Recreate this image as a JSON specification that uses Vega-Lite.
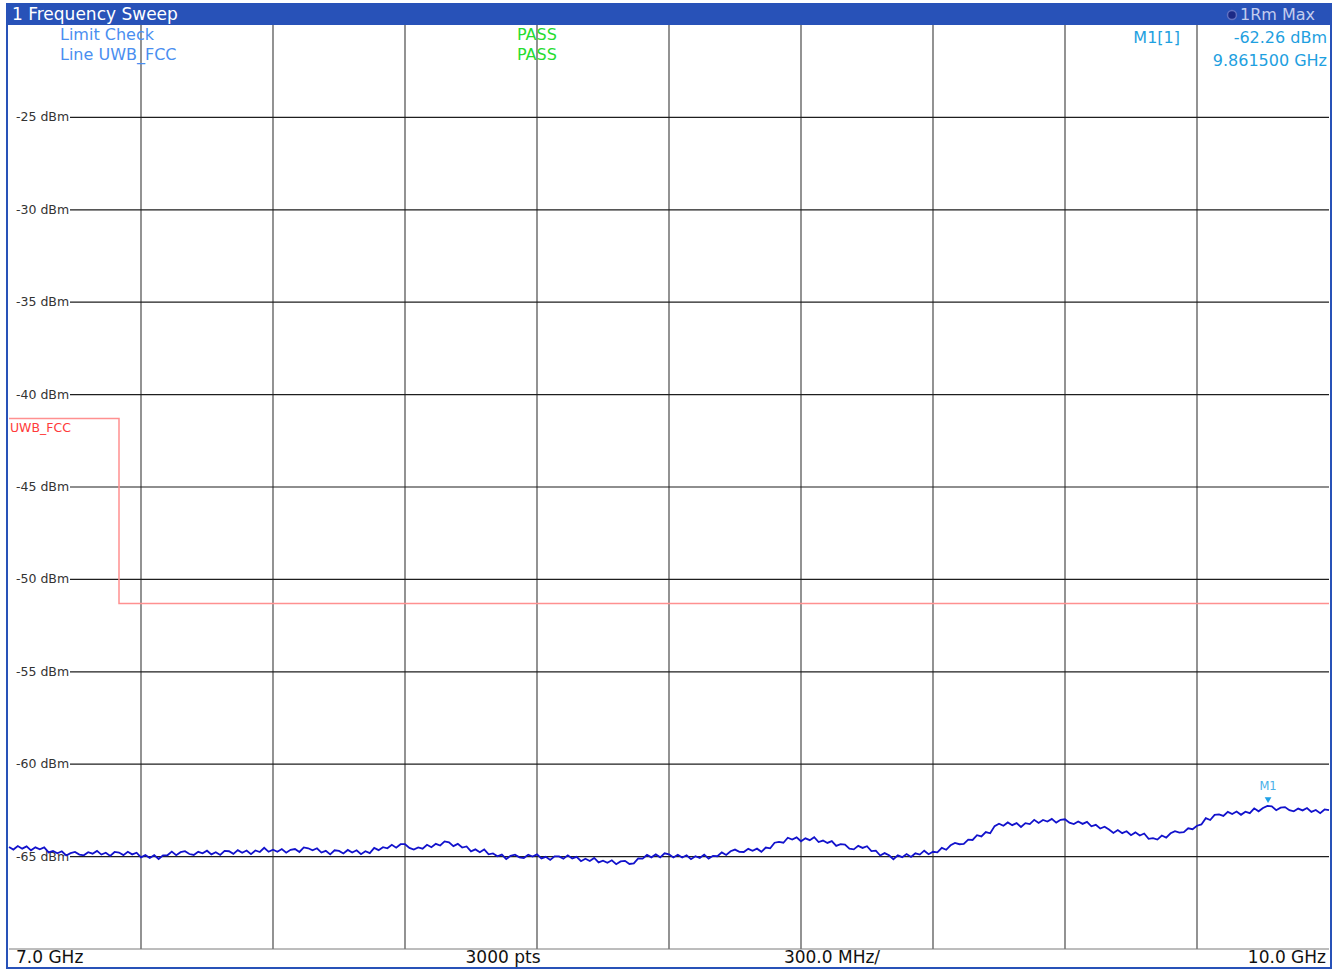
{
  "$schema": "https://vega.github.io/schema/vega-lite/v6.json",
  "width": 1320,
  "height": 924,
  "autosize": {"type": "none"},
  "padding": {"left": 9, "top": 25, "right": 6, "bottom": 21},
  "background": "white",
  "config": {"view": {"stroke": null}, "text": {"font": "DejaVu Sans"}},
  "datasets": {
    "trace": [
      {"f":7.00,"dBm":-64.48},{"f":7.01,"dBm":-64.62},{"f":7.02,"dBm":-64.43},{"f":7.03,"dBm":-64.57},{"f":7.04,"dBm":-64.45},{"f":7.05,"dBm":-64.66},{"f":7.06,"dBm":-64.50},{"f":7.07,"dBm":-64.60},{"f":7.08,"dBm":-64.50},{"f":7.09,"dBm":-64.77},
      {"f":7.10,"dBm":-64.69},{"f":7.11,"dBm":-64.82},{"f":7.12,"dBm":-64.71},{"f":7.13,"dBm":-64.94},{"f":7.14,"dBm":-64.81},{"f":7.15,"dBm":-64.75},{"f":7.16,"dBm":-64.89},{"f":7.17,"dBm":-64.93},{"f":7.18,"dBm":-64.76},{"f":7.19,"dBm":-64.84},
      {"f":7.20,"dBm":-64.69},{"f":7.21,"dBm":-64.89},{"f":7.22,"dBm":-64.79},{"f":7.23,"dBm":-64.96},{"f":7.24,"dBm":-64.75},{"f":7.25,"dBm":-64.78},{"f":7.26,"dBm":-64.92},{"f":7.27,"dBm":-64.74},{"f":7.28,"dBm":-64.88},{"f":7.29,"dBm":-64.79},
      {"f":7.30,"dBm":-65.04},{"f":7.31,"dBm":-64.92},{"f":7.32,"dBm":-65.07},{"f":7.33,"dBm":-64.92},{"f":7.34,"dBm":-65.13},{"f":7.35,"dBm":-64.93},{"f":7.36,"dBm":-64.93},{"f":7.37,"dBm":-64.73},{"f":7.38,"dBm":-64.92},{"f":7.39,"dBm":-64.76},
      {"f":7.40,"dBm":-64.71},{"f":7.41,"dBm":-64.86},{"f":7.42,"dBm":-64.91},{"f":7.43,"dBm":-64.74},{"f":7.44,"dBm":-64.82},{"f":7.45,"dBm":-64.68},{"f":7.46,"dBm":-64.88},{"f":7.47,"dBm":-64.76},{"f":7.48,"dBm":-64.91},{"f":7.49,"dBm":-64.69},
      {"f":7.50,"dBm":-64.71},{"f":7.51,"dBm":-64.85},{"f":7.52,"dBm":-64.65},{"f":7.53,"dBm":-64.79},{"f":7.54,"dBm":-64.67},{"f":7.55,"dBm":-64.87},{"f":7.56,"dBm":-64.67},{"f":7.57,"dBm":-64.75},{"f":7.58,"dBm":-64.52},{"f":7.59,"dBm":-64.74},
      {"f":7.60,"dBm":-64.63},{"f":7.61,"dBm":-64.74},{"f":7.62,"dBm":-64.59},{"f":7.63,"dBm":-64.79},{"f":7.64,"dBm":-64.63},{"f":7.65,"dBm":-64.59},{"f":7.66,"dBm":-64.75},{"f":7.67,"dBm":-64.50},{"f":7.68,"dBm":-64.55},{"f":7.69,"dBm":-64.66},
      {"f":7.70,"dBm":-64.55},{"f":7.71,"dBm":-64.78},{"f":7.72,"dBm":-64.69},{"f":7.73,"dBm":-64.88},{"f":7.74,"dBm":-64.66},{"f":7.75,"dBm":-64.69},{"f":7.76,"dBm":-64.83},{"f":7.77,"dBm":-64.64},{"f":7.78,"dBm":-64.78},{"f":7.79,"dBm":-64.66},
      {"f":7.80,"dBm":-64.87},{"f":7.81,"dBm":-64.71},{"f":7.82,"dBm":-64.81},{"f":7.83,"dBm":-64.53},{"f":7.84,"dBm":-64.65},{"f":7.85,"dBm":-64.49},{"f":7.86,"dBm":-64.55},{"f":7.87,"dBm":-64.36},{"f":7.88,"dBm":-64.52},{"f":7.89,"dBm":-64.33},
      {"f":7.90,"dBm":-64.33},{"f":7.91,"dBm":-64.53},{"f":7.92,"dBm":-64.62},{"f":7.93,"dBm":-64.50},{"f":7.94,"dBm":-64.57},{"f":7.95,"dBm":-64.36},{"f":7.96,"dBm":-64.49},{"f":7.97,"dBm":-64.31},{"f":7.98,"dBm":-64.40},{"f":7.99,"dBm":-64.18},
      {"f":8.00,"dBm":-64.23},{"f":8.01,"dBm":-64.43},{"f":8.02,"dBm":-64.31},{"f":8.03,"dBm":-64.51},{"f":8.04,"dBm":-64.45},{"f":8.05,"dBm":-64.72},{"f":8.06,"dBm":-64.61},{"f":8.07,"dBm":-64.76},{"f":8.08,"dBm":-64.61},{"f":8.09,"dBm":-64.88},
      {"f":8.10,"dBm":-64.83},{"f":8.11,"dBm":-64.98},{"f":8.12,"dBm":-64.89},{"f":8.13,"dBm":-65.13},{"f":8.14,"dBm":-64.96},{"f":8.15,"dBm":-64.90},{"f":8.16,"dBm":-65.04},{"f":8.17,"dBm":-65.08},{"f":8.18,"dBm":-64.90},{"f":8.19,"dBm":-65.00},
      {"f":8.20,"dBm":-64.88},{"f":8.21,"dBm":-65.10},{"f":8.22,"dBm":-65.01},{"f":8.23,"dBm":-65.18},{"f":8.24,"dBm":-64.99},{"f":8.25,"dBm":-64.99},{"f":8.26,"dBm":-65.11},{"f":8.27,"dBm":-64.93},{"f":8.28,"dBm":-65.10},{"f":8.29,"dBm":-65.01},
      {"f":8.30,"dBm":-65.25},{"f":8.31,"dBm":-65.12},{"f":8.32,"dBm":-65.24},{"f":8.33,"dBm":-65.07},{"f":8.34,"dBm":-65.31},{"f":8.35,"dBm":-65.22},{"f":8.36,"dBm":-65.33},{"f":8.37,"dBm":-65.20},{"f":8.38,"dBm":-65.41},{"f":8.39,"dBm":-65.26},
      {"f":8.40,"dBm":-65.23},{"f":8.41,"dBm":-65.40},{"f":8.42,"dBm":-65.37},{"f":8.43,"dBm":-65.10},{"f":8.44,"dBm":-65.11},{"f":8.45,"dBm":-64.91},{"f":8.46,"dBm":-65.04},{"f":8.47,"dBm":-64.88},{"f":8.48,"dBm":-65.04},{"f":8.49,"dBm":-64.82},
      {"f":8.50,"dBm":-64.88},{"f":8.51,"dBm":-65.05},{"f":8.52,"dBm":-64.90},{"f":8.53,"dBm":-65.05},{"f":8.54,"dBm":-64.93},{"f":8.55,"dBm":-65.14},{"f":8.56,"dBm":-64.98},{"f":8.57,"dBm":-65.08},{"f":8.58,"dBm":-64.89},{"f":8.59,"dBm":-65.11},
      {"f":8.60,"dBm":-64.96},{"f":8.61,"dBm":-64.98},{"f":8.62,"dBm":-64.77},{"f":8.63,"dBm":-64.91},{"f":8.64,"dBm":-64.71},{"f":8.65,"dBm":-64.62},{"f":8.66,"dBm":-64.74},{"f":8.67,"dBm":-64.75},{"f":8.68,"dBm":-64.58},{"f":8.69,"dBm":-64.69},
      {"f":8.70,"dBm":-64.57},{"f":8.71,"dBm":-64.74},{"f":8.72,"dBm":-64.51},{"f":8.73,"dBm":-64.55},{"f":8.74,"dBm":-64.25},{"f":8.75,"dBm":-64.20},{"f":8.76,"dBm":-64.25},{"f":8.77,"dBm":-63.98},{"f":8.78,"dBm":-64.08},{"f":8.79,"dBm":-63.96},
      {"f":8.80,"dBm":-64.17},{"f":8.81,"dBm":-64.01},{"f":8.82,"dBm":-64.11},{"f":8.83,"dBm":-63.95},{"f":8.84,"dBm":-64.21},{"f":8.85,"dBm":-64.13},{"f":8.86,"dBm":-64.26},{"f":8.87,"dBm":-64.16},{"f":8.88,"dBm":-64.42},{"f":8.89,"dBm":-64.33},
      {"f":8.90,"dBm":-64.35},{"f":8.91,"dBm":-64.57},{"f":8.92,"dBm":-64.61},{"f":8.93,"dBm":-64.42},{"f":8.94,"dBm":-64.53},{"f":8.95,"dBm":-64.44},{"f":8.96,"dBm":-64.70},{"f":8.97,"dBm":-64.68},{"f":8.98,"dBm":-64.94},{"f":8.99,"dBm":-64.81},
      {"f":9.00,"dBm":-64.93},{"f":9.01,"dBm":-65.14},{"f":9.02,"dBm":-64.93},{"f":9.03,"dBm":-65.03},{"f":9.04,"dBm":-64.86},{"f":9.05,"dBm":-65.02},{"f":9.06,"dBm":-64.82},{"f":9.07,"dBm":-64.89},{"f":9.08,"dBm":-64.68},{"f":9.09,"dBm":-64.87},
      {"f":9.10,"dBm":-64.74},{"f":9.11,"dBm":-64.77},{"f":9.12,"dBm":-64.53},{"f":9.13,"dBm":-64.63},{"f":9.14,"dBm":-64.39},{"f":9.15,"dBm":-64.26},{"f":9.16,"dBm":-64.33},{"f":9.17,"dBm":-64.31},{"f":9.18,"dBm":-64.08},{"f":9.19,"dBm":-64.10},
      {"f":9.20,"dBm":-63.84},{"f":9.21,"dBm":-63.91},{"f":9.22,"dBm":-63.67},{"f":9.23,"dBm":-63.74},{"f":9.24,"dBm":-63.35},{"f":9.25,"dBm":-63.22},{"f":9.26,"dBm":-63.33},{"f":9.27,"dBm":-63.15},{"f":9.28,"dBm":-63.30},{"f":9.29,"dBm":-63.19},
      {"f":9.30,"dBm":-63.40},{"f":9.31,"dBm":-63.19},{"f":9.32,"dBm":-63.24},{"f":9.33,"dBm":-63.01},{"f":9.34,"dBm":-63.18},{"f":9.35,"dBm":-63.02},{"f":9.36,"dBm":-63.10},{"f":9.37,"dBm":-62.96},{"f":9.38,"dBm":-63.16},{"f":9.39,"dBm":-63.01},
      {"f":9.40,"dBm":-62.98},{"f":9.41,"dBm":-63.16},{"f":9.42,"dBm":-63.24},{"f":9.43,"dBm":-63.10},{"f":9.44,"dBm":-63.23},{"f":9.45,"dBm":-63.12},{"f":9.46,"dBm":-63.36},{"f":9.47,"dBm":-63.28},{"f":9.48,"dBm":-63.48},{"f":9.49,"dBm":-63.38},
      {"f":9.50,"dBm":-63.53},{"f":9.51,"dBm":-63.72},{"f":9.52,"dBm":-63.56},{"f":9.53,"dBm":-63.73},{"f":9.54,"dBm":-63.63},{"f":9.55,"dBm":-63.84},{"f":9.56,"dBm":-63.69},{"f":9.57,"dBm":-63.86},{"f":9.58,"dBm":-63.75},{"f":9.59,"dBm":-64.04},
      {"f":9.60,"dBm":-64.00},{"f":9.61,"dBm":-64.08},{"f":9.62,"dBm":-63.86},{"f":9.63,"dBm":-63.97},{"f":9.64,"dBm":-63.74},{"f":9.65,"dBm":-63.62},{"f":9.66,"dBm":-63.70},{"f":9.67,"dBm":-63.68},{"f":9.68,"dBm":-63.47},{"f":9.69,"dBm":-63.52},
      {"f":9.70,"dBm":-63.33},{"f":9.71,"dBm":-63.26},{"f":9.72,"dBm":-62.92},{"f":9.73,"dBm":-63.02},{"f":9.74,"dBm":-62.74},{"f":9.75,"dBm":-62.72},{"f":9.76,"dBm":-62.80},{"f":9.77,"dBm":-62.58},{"f":9.78,"dBm":-62.70},{"f":9.79,"dBm":-62.56},
      {"f":9.80,"dBm":-62.74},{"f":9.81,"dBm":-62.57},{"f":9.82,"dBm":-62.65},{"f":9.83,"dBm":-62.39},{"f":9.84,"dBm":-62.55},{"f":9.85,"dBm":-62.37},{"f":9.86,"dBm":-62.26},{"f":9.87,"dBm":-62.28},{"f":9.88,"dBm":-62.49},{"f":9.89,"dBm":-62.35},
      {"f":9.90,"dBm":-62.32},{"f":9.91,"dBm":-62.49},{"f":9.92,"dBm":-62.55},{"f":9.93,"dBm":-62.40},{"f":9.94,"dBm":-62.50},{"f":9.95,"dBm":-62.37},{"f":9.96,"dBm":-62.58},{"f":9.97,"dBm":-62.48},{"f":9.98,"dBm":-62.65},{"f":9.99,"dBm":-62.45},
      {"f":10.00,"dBm":-62.49}
    ],
    "limit": [
      {"k":1,"f":7.0,"dBm":-41.3},{"k":2,"f":7.25,"dBm":-41.3},{"k":3,"f":7.25,"dBm":-51.3},{"k":4,"f":10.0,"dBm":-51.3}
    ],
    "vgrid": [{"f":7.3},{"f":7.6},{"f":7.9},{"f":8.2},{"f":8.5},{"f":8.8},{"f":9.1},{"f":9.4},{"f":9.7}],
    "hgrid": [
      {"level":-25,"label":"-25 dBm"},{"level":-30,"label":"-30 dBm"},{"level":-35,"label":"-35 dBm"},{"level":-40,"label":"-40 dBm"},
      {"level":-45,"label":"-45 dBm"},{"level":-50,"label":"-50 dBm"},{"level":-55,"label":"-55 dBm"},{"level":-60,"label":"-60 dBm"},{"level":-65,"label":"-65 dBm"}
    ],
    "one": [{}]
  },
  "layer": [
    {
      "data": {"name": "vgrid"},
      "mark": {"type": "rule", "color": "#4a4a4a", "strokeWidth": 1.2},
      "encoding": {
        "x": {"field": "f", "type": "quantitative", "scale": {"domain": [7, 10], "nice": false, "zero": false}, "axis": null},
        "y": {"datum": -70, "type": "quantitative", "scale": {"domain": [-70, -20], "nice": false, "zero": false}, "axis": null},
        "y2": {"datum": -20}
      }
    },
    {
      "data": {"name": "hgrid"},
      "mark": {"type": "rule", "color": "#1e1e1e", "strokeWidth": 1.2},
      "encoding": {
        "y": {"field": "level", "type": "quantitative", "scale": {"domain": [-70, -20], "nice": false, "zero": false}, "axis": null},
        "x": {"datum": 7.1386, "type": "quantitative", "scale": {"domain": [7, 10], "nice": false, "zero": false}, "axis": null},
        "x2": {"datum": 10}
      }
    },
    {
      "data": {"name": "hgrid"},
      "mark": {"type": "text", "align": "left", "baseline": "middle", "fontSize": 12.5, "color": "#333333"},
      "encoding": {
        "y": {"field": "level", "type": "quantitative", "scale": {"domain": [-70, -20], "nice": false, "zero": false}, "axis": null},
        "x": {"datum": 7.0159, "type": "quantitative", "scale": {"domain": [7, 10], "nice": false, "zero": false}, "axis": null},
        "text": {"field": "label"}
      }
    },
    {
      "data": {"name": "limit"},
      "mark": {"type": "line", "color": "#ff9090", "strokeWidth": 1.5, "interpolate": "linear"},
      "encoding": {
        "x": {"field": "f", "type": "quantitative", "scale": {"domain": [7, 10], "nice": false, "zero": false}, "axis": null},
        "y": {"field": "dBm", "type": "quantitative", "scale": {"domain": [-70, -20], "nice": false, "zero": false}, "axis": null},
        "order": {"field": "k"}
      }
    },
    {
      "data": {"name": "one"},
      "mark": {"type": "text", "text": "UWB_FCC", "align": "left", "baseline": "middle", "fontSize": 12.5, "color": "#ff3b3b"},
      "encoding": {
        "x": {"datum": 7.002, "type": "quantitative", "scale": {"domain": [7, 10], "nice": false, "zero": false}, "axis": null},
        "y": {"datum": -41.81, "type": "quantitative", "scale": {"domain": [-70, -20], "nice": false, "zero": false}, "axis": null}
      }
    },
    {
      "data": {"name": "trace"},
      "mark": {"type": "line", "color": "#1212cc", "strokeWidth": 1.8},
      "encoding": {
        "x": {"field": "f", "type": "quantitative", "scale": {"domain": [7, 10], "nice": false, "zero": false}, "axis": null},
        "y": {"field": "dBm", "type": "quantitative", "scale": {"domain": [-70, -20], "nice": false, "zero": false}, "axis": null}
      }
    },
    {
      "data": {"name": "one"},
      "mark": {"type": "point", "shape": "triangle-down", "filled": true, "size": 45, "color": "#1ea0e6", "opacity": 1},
      "encoding": {
        "x": {"datum": 9.8615, "type": "quantitative", "scale": {"domain": [7, 10], "nice": false, "zero": false}, "axis": null},
        "y": {"datum": -61.94, "type": "quantitative", "scale": {"domain": [-70, -20], "nice": false, "zero": false}, "axis": null}
      }
    },
    {
      "data": {"name": "one"},
      "mark": {"type": "text", "text": "M1", "align": "center", "baseline": "middle", "fontSize": 11.5, "color": "#4ab0e8"},
      "encoding": {
        "x": {"datum": 9.8615, "type": "quantitative", "scale": {"domain": [7, 10], "nice": false, "zero": false}, "axis": null},
        "y": {"datum": -61.23, "type": "quantitative", "scale": {"domain": [-70, -20], "nice": false, "zero": false}, "axis": null}
      }
    },
    {
      "data": {"name": "one"},
      "mark": {"type": "rule", "color": "#7a7a7a", "strokeWidth": 1},
      "encoding": {
        "x": {"datum": 7.0, "type": "quantitative", "scale": {"domain": [7, 10], "nice": false, "zero": false}, "axis": null},
        "x2": {"datum": 10.0},
        "y": {"datum": -70, "type": "quantitative", "scale": {"domain": [-70, -20], "nice": false, "zero": false}, "axis": null}
      }
    },
    {
      "data": {"name": "one"},
      "mark": {"type": "rect", "color": "#2852b8"},
      "encoding": {
        "x": {"datum": 6.99545, "type": "quantitative", "scale": {"domain": [7, 10], "nice": false, "zero": false}, "axis": null},
        "x2": {"datum": 10.00455},
        "y": {"datum": -18.864, "type": "quantitative", "scale": {"domain": [-70, -20], "nice": false, "zero": false}, "axis": null},
        "y2": {"datum": -20}
      }
    },
    {
      "data": {"name": "one"},
      "mark": {"type": "rect", "fill": null, "fillOpacity": 0, "stroke": "#2852b8", "strokeWidth": 2},
      "encoding": {
        "x": {"datum": 6.99545, "type": "quantitative", "scale": {"domain": [7, 10], "nice": false, "zero": false}, "axis": null},
        "x2": {"datum": 10.00455},
        "y": {"datum": -18.864, "type": "quantitative", "scale": {"domain": [-70, -20], "nice": false, "zero": false}, "axis": null},
        "y2": {"datum": -71.028}
      }
    },
    {
      "data": {"name": "one"},
      "mark": {"type": "text", "text": "1 Frequency Sweep", "align": "left", "baseline": "middle", "fontSize": 17, "color": "#ffffff"},
      "encoding": {
        "x": {"datum": 7.0068, "type": "quantitative", "scale": {"domain": [7, 10], "nice": false, "zero": false}, "axis": null},
        "y": {"datum": -19.46, "type": "quantitative", "scale": {"domain": [-70, -20], "nice": false, "zero": false}, "axis": null}
      }
    },
    {
      "data": {"name": "one"},
      "mark": {"type": "point", "shape": "circle", "filled": true, "size": 80, "color": "#1c2a86", "fill": "#1c2a86", "fillOpacity": 1, "stroke": "#6070c0", "strokeWidth": 1.5, "opacity": 1},
      "encoding": {
        "x": {"datum": 9.7795, "type": "quantitative", "scale": {"domain": [7, 10], "nice": false, "zero": false}, "axis": null},
        "y": {"datum": -19.46, "type": "quantitative", "scale": {"domain": [-70, -20], "nice": false, "zero": false}, "axis": null}
      }
    },
    {
      "data": {"name": "one"},
      "mark": {"type": "text", "text": "1Rm Max", "align": "left", "baseline": "middle", "fontSize": 16, "color": "#c4cdee"},
      "encoding": {
        "x": {"datum": 9.7977, "type": "quantitative", "scale": {"domain": [7, 10], "nice": false, "zero": false}, "axis": null},
        "y": {"datum": -19.46, "type": "quantitative", "scale": {"domain": [-70, -20], "nice": false, "zero": false}, "axis": null}
      }
    },
    {
      "data": {"name": "one"},
      "mark": {"type": "text", "text": "Limit Check", "align": "left", "baseline": "middle", "fontSize": 16, "color": "#4a8ef0"},
      "encoding": {
        "x": {"datum": 7.1159, "type": "quantitative", "scale": {"domain": [7, 10], "nice": false, "zero": false}, "axis": null},
        "y": {"datum": -20.541, "type": "quantitative", "scale": {"domain": [-70, -20], "nice": false, "zero": false}, "axis": null}
      }
    },
    {
      "data": {"name": "one"},
      "mark": {"type": "text", "text": "Line UWB_FCC", "align": "left", "baseline": "middle", "fontSize": 16, "color": "#4a8ef0"},
      "encoding": {
        "x": {"datum": 7.1159, "type": "quantitative", "scale": {"domain": [7, 10], "nice": false, "zero": false}, "axis": null},
        "y": {"datum": -21.623, "type": "quantitative", "scale": {"domain": [-70, -20], "nice": false, "zero": false}, "axis": null}
      }
    },
    {
      "data": {"name": "one"},
      "mark": {"type": "text", "text": "PASS", "align": "left", "baseline": "middle", "fontSize": 16, "color": "#26dc30"},
      "encoding": {
        "x": {"datum": 8.1545, "type": "quantitative", "scale": {"domain": [7, 10], "nice": false, "zero": false}, "axis": null},
        "y": {"datum": -20.541, "type": "quantitative", "scale": {"domain": [-70, -20], "nice": false, "zero": false}, "axis": null}
      }
    },
    {
      "data": {"name": "one"},
      "mark": {"type": "text", "text": "PASS", "align": "left", "baseline": "middle", "fontSize": 16, "color": "#26dc30"},
      "encoding": {
        "x": {"datum": 8.1545, "type": "quantitative", "scale": {"domain": [7, 10], "nice": false, "zero": false}, "axis": null},
        "y": {"datum": -21.623, "type": "quantitative", "scale": {"domain": [-70, -20], "nice": false, "zero": false}, "axis": null}
      }
    },
    {
      "data": {"name": "one"},
      "mark": {"type": "text", "text": "M1[1]", "align": "right", "baseline": "middle", "fontSize": 16, "color": "#1ea0e0"},
      "encoding": {
        "x": {"datum": 9.6614, "type": "quantitative", "scale": {"domain": [7, 10], "nice": false, "zero": false}, "axis": null},
        "y": {"datum": -20.704, "type": "quantitative", "scale": {"domain": [-70, -20], "nice": false, "zero": false}, "axis": null}
      }
    },
    {
      "data": {"name": "one"},
      "mark": {"type": "text", "text": "-62.26 dBm", "align": "right", "baseline": "middle", "fontSize": 16, "color": "#1ea0e0"},
      "encoding": {
        "x": {"datum": 9.9955, "type": "quantitative", "scale": {"domain": [7, 10], "nice": false, "zero": false}, "axis": null},
        "y": {"datum": -20.704, "type": "quantitative", "scale": {"domain": [-70, -20], "nice": false, "zero": false}, "axis": null}
      }
    },
    {
      "data": {"name": "one"},
      "mark": {"type": "text", "text": "9.861500 GHz", "align": "right", "baseline": "middle", "fontSize": 16, "color": "#1ea0e0"},
      "encoding": {
        "x": {"datum": 9.9955, "type": "quantitative", "scale": {"domain": [7, 10], "nice": false, "zero": false}, "axis": null},
        "y": {"datum": -21.948, "type": "quantitative", "scale": {"domain": [-70, -20], "nice": false, "zero": false}, "axis": null}
      }
    },
    {
      "data": {"name": "one"},
      "mark": {"type": "text", "text": "7.0 GHz", "align": "left", "baseline": "middle", "fontSize": 17, "color": "#111111"},
      "encoding": {
        "x": {"datum": 7.0159, "type": "quantitative", "scale": {"domain": [7, 10], "nice": false, "zero": false}, "axis": null},
        "y": {"datum": -70.487, "type": "quantitative", "scale": {"domain": [-70, -20], "nice": false, "zero": false}, "axis": null}
      }
    },
    {
      "data": {"name": "one"},
      "mark": {"type": "text", "text": "3000 pts", "align": "center", "baseline": "middle", "fontSize": 17, "color": "#111111"},
      "encoding": {
        "x": {"datum": 8.1227, "type": "quantitative", "scale": {"domain": [7, 10], "nice": false, "zero": false}, "axis": null},
        "y": {"datum": -70.487, "type": "quantitative", "scale": {"domain": [-70, -20], "nice": false, "zero": false}, "axis": null}
      }
    },
    {
      "data": {"name": "one"},
      "mark": {"type": "text", "text": "300.0 MHz/", "align": "center", "baseline": "middle", "fontSize": 17, "color": "#111111"},
      "encoding": {
        "x": {"datum": 8.8705, "type": "quantitative", "scale": {"domain": [7, 10], "nice": false, "zero": false}, "axis": null},
        "y": {"datum": -70.487, "type": "quantitative", "scale": {"domain": [-70, -20], "nice": false, "zero": false}, "axis": null}
      }
    },
    {
      "data": {"name": "one"},
      "mark": {"type": "text", "text": "10.0 GHz", "align": "right", "baseline": "middle", "fontSize": 17, "color": "#111111"},
      "encoding": {
        "x": {"datum": 9.9932, "type": "quantitative", "scale": {"domain": [7, 10], "nice": false, "zero": false}, "axis": null},
        "y": {"datum": -70.487, "type": "quantitative", "scale": {"domain": [-70, -20], "nice": false, "zero": false}, "axis": null}
      }
    }
  ]
}
